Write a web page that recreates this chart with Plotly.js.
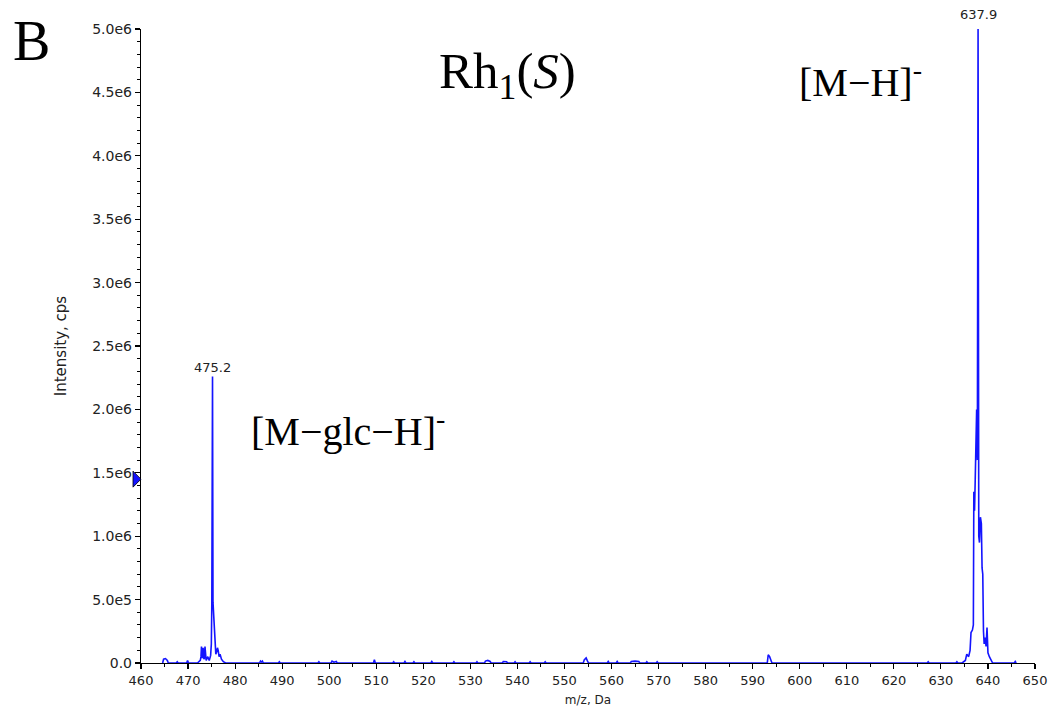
<!DOCTYPE html>
<html>
<head>
<meta charset="utf-8">
<script src="https://cdn.plot.ly/plotly-3.0.1.min.js"></script>
<style>html,body{margin:0;padding:0;background:#fff;}#chart{width:1050px;height:709px;}</style>
</head>
<body>
<div id="chart"></div>
<script>
// ---- data (m/z in Da, intensity in cps) ----
// baseline noise peaks
var noiseMz  = [464.6, 464.8, 465.2, 465.6, 465.8, 467.5, 467.7, 467.9, 469.7, 469.9, 470.1,
                485.2, 485.4, 485.6, 485.8, 486.0, 489.2, 489.4, 489.6, 497.6, 497.8, 498.0,
                500.4, 500.6, 501.0, 501.5, 501.7, 509.4, 509.6, 509.8, 513.5, 513.7, 513.9,
                515.9, 516.1, 516.3, 517.8, 518.0, 518.2, 521.6, 521.8, 522.0, 526.3, 526.5, 526.7,
                531.2, 531.4, 531.6, 533.0, 533.2, 533.7, 534.2, 534.4, 536.8, 537.0, 537.7, 537.9,
                539.3, 539.5, 539.7, 542.5, 542.7, 542.9, 545.7, 545.9, 546.1,
                554.0, 554.2, 554.6, 554.9, 555.1, 559.1, 559.3, 559.5, 561.0, 561.2, 561.4,
                564.0, 564.2, 565.0, 565.8, 566.0, 567.3, 567.5, 567.7, 569.5, 569.7, 569.9,
                593.1, 593.3, 593.6, 593.9, 594.1, 627.1, 627.3, 627.5, 633.2, 633.4, 633.6,
                645.6, 645.8, 646.0];
var noiseInt = [0, 30000, 35000, 20000, 0, 0, 10000, 0, 0, 20000, 0,
                0, 15000, 8000, 15000, 0, 0, 10000, 0, 0, 10000, 0,
                0, 15000, 6000, 12000, 0, 0, 25000, 0, 0, 10000, 0,
                0, 12000, 0, 0, 10000, 0, 0, 12000, 0, 0, 10000, 0,
                0, 10000, 0, 0, 15000, 20000, 12000, 0, 0, 12000, 10000, 0,
                0, 10000, 0, 0, 10000, 0, 0, 10000, 0,
                0, 25000, 40000, 15000, 0, 0, 12000, 0, 0, 12000, 0,
                0, 12000, 15000, 12000, 0, 0, 10000, 0, 0, 10000, 0,
                0, 65000, 50000, 20000, 0, 0, 10000, 0, 0, 10000, 0,
                0, 12000, 0];
// [M-glc-H]- cluster
var glcMz  = [472.0, 472.6, 472.75, 472.85, 472.95, 473.1, 473.2, 473.3, 473.45, 473.6, 473.7, 473.85,
              474.2, 474.5, 474.8, 474.95, 475.05, 475.2, 475.3, 475.45, 475.6, 475.75, 475.9,
              476.1, 476.25, 476.4, 476.6, 476.8, 477.1, 477.5, 478.0];
var glcInt = [0, 20000, 50000, 130000, 40000, 50000, 120000, 40000, 30000, 130000, 30000, 20000,
              50000, 20000, 60000, 150000, 470000, 2260000, 480000, 380000, 180000, 100000, 70000,
              90000, 120000, 100000, 50000, 70000, 30000, 10000, 0];
// [M-H]- cluster
var parentMz  = [634.5, 635.2, 635.5, 635.9, 636.2, 636.4, 636.7, 636.9, 637.0, 637.15, 637.3, 637.45,
                 637.6, 637.75, 637.9, 638.05, 638.2, 638.4, 638.6, 638.75, 638.9, 639.05, 639.2,
                 639.4, 639.6, 639.8, 640.0, 640.3, 640.7, 641.0];
var parentInt = [0, 20000, 70000, 50000, 100000, 240000, 260000, 300000, 1350000, 1200000, 1450000, 1950000,
                 2000000, 1600000, 5000000, 1000000, 950000, 1150000, 1100000, 750000, 700000, 250000, 150000,
                 200000, 130000, 280000, 80000, 50000, 20000, 0];
// labelled peaks
var peakLabels = ['475.2', '637.9'];
var peakMz = [475.2, 637.9];
var peakInt = [2260000, 5000000];
// tick labels
var yTickVals = [0, 500000, 1000000, 1500000, 2000000, 2500000, 3000000, 3500000, 4000000, 4500000, 5000000];
var yTickText = ['0.0', '5.0e5', '1.0e6', '1.5e6', '2.0e6', '2.5e6', '3.0e6', '3.5e6', '4.0e6', '4.5e6', '5.0e6'];
var xTickVals = [460, 470, 480, 490, 500, 510, 520, 530, 540, 550, 560, 570, 580, 590, 600, 610, 620, 630, 640, 650];
// threshold marker on the intensity axis
var markerInt = 1450000;

// ---- assemble spectrum, sorted by m/z ----
var pts = [];
[[noiseMz, noiseInt], [glcMz, glcInt], [parentMz, parentInt]].forEach(function (p) {
  for (var i = 0; i < p[0].length; i++) pts.push([p[0][i], p[1][i]]);
});
pts.sort(function (a, b) { return a[0] - b[0]; });
var mz = [], inten = [];
pts.forEach(function (p) { mz.push(p[0]); inten.push(p[1]); });

var sans = 'DejaVu Sans, Verdana, sans-serif';
var serif = 'Liberation Serif, Times New Roman, serif';
var tickFontX = {family: sans, size: 13, color: '#222'};
var tickFontY = {family: sans, size: 14, color: '#222'};
var labelShift = [-1, 5];

var traces = [
  {x: mz, y: inten, type: 'scatter', mode: 'lines',
   line: {color: '#1414ff', width: 1.6}, hoverinfo: 'x+y', showlegend: false, cliponaxis: false}
];

var annotations = [
  {xref: 'paper', yref: 'paper', x: -0.145, y: 0.981, xanchor: 'left', yanchor: 'middle',
   text: 'B', showarrow: false, font: {family: serif, size: 56, color: '#000'}},
  {xref: 'paper', yref: 'paper', x: 0.41, y: 0.928, xanchor: 'center', yanchor: 'middle',
   text: 'Rh<sub>1</sub>(<i>S</i>)', showarrow: false, font: {family: serif, size: 51, color: '#000'}},
  {xref: 'paper', yref: 'paper', x: 0.805, y: 0.92, xanchor: 'center', yanchor: 'middle',
   text: '[M\u2212H]<sup>-</sup>', showarrow: false, font: {family: serif, size: 40, color: '#000'}},
  {xref: 'paper', yref: 'paper', x: 0.231, y: 0.37, xanchor: 'center', yanchor: 'middle',
   text: '[M\u2212glc\u2212H]<sup>-</sup>', showarrow: false, font: {family: serif, size: 40, color: '#000'}}
];
for (var k = 0; k < peakLabels.length; k++) {
  annotations.push({xref: 'x', yref: 'y', x: peakMz[k], y: peakInt[k], xanchor: 'center', yanchor: 'bottom',
    yshift: labelShift[k], text: peakLabels[k], showarrow: false,
    font: {family: sans, size: 13, color: '#222'}});
}

var layout = {
  width: 1050, height: 709,
  margin: {l: 141, r: 15, t: 29, b: 46},
  paper_bgcolor: '#fff', plot_bgcolor: '#fff',
  showlegend: false,
  xaxis: {
    range: [460, 650], tickmode: 'array', tickvals: xTickVals,
    showgrid: false, zeroline: false, showline: true, linecolor: '#000', linewidth: 1.2,
    ticks: 'outside', ticklen: 5, tickwidth: 1.2, tickcolor: '#000',
    minor: {dtick: 5, tick0: 460, ticks: 'outside', ticklen: 3, tickcolor: '#000', tickwidth: 1},
    tickfont: tickFontX,
    title: {text: 'm/z, Da', font: {family: sans, size: 12, color: '#222'}, standoff: 8}
  },
  yaxis: {
    range: [0, 5000000], tickmode: 'array', tickvals: yTickVals, ticktext: yTickText,
    showgrid: false, zeroline: false, showline: true, linecolor: '#000', linewidth: 1.2,
    ticks: 'outside', ticklen: 5, tickwidth: 1.2, tickcolor: '#000',
    minor: {dtick: 100000, tick0: 0, ticks: 'outside', ticklen: 3, tickcolor: '#000', tickwidth: 1},
    tickfont: tickFontY,
    title: {text: 'Intensity, cps', font: {family: sans, size: 15, color: '#222'}, standoff: 22}
  },
  shapes: [
    {type: 'path', xref: 'paper', yref: 'y', xsizemode: 'pixel', ysizemode: 'pixel',
     xanchor: 0, yanchor: markerInt, path: 'M -8 8 L 0 0 L -8 -8 Z',
     fillcolor: '#1414ff', line: {color: '#000', width: 0.8}, layer: 'above'}
  ],
  annotations: annotations
};

Plotly.newPlot('chart', traces, layout, {displayModeBar: false, staticPlot: true});
</script>
</body>
</html>
